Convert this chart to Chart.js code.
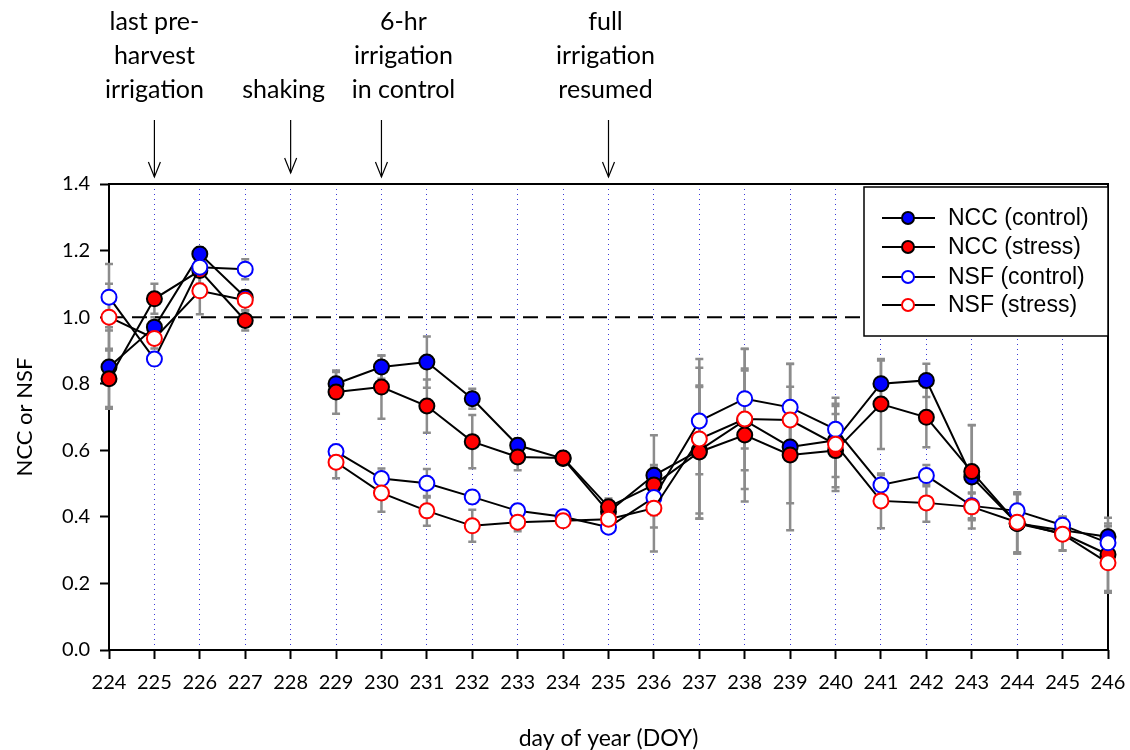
<!DOCTYPE html>
<html><head><meta charset="utf-8">
<script src="https://cdn.jsdelivr.net/npm/chart.js@4/dist/chart.umd.min.js"></script>
<style>html,body{margin:0;padding:0;background:#fff}#wrap{width:1130px;height:750px}</style>
</head><body><div id="wrap"><canvas id="c" width="1130" height="750"></canvas></div>
<script>
// ---- data ----
const days = [224,225,226,227,228,229,230,231,232,233,234,235,236,237,238,239,240,241,242,243,244,245,246];
const nccControl = [0.85,0.97,1.19,1.06,null,0.80,0.85,0.865,0.755,0.615,0.575,0.415,0.525,0.60,0.69,0.61,0.63,0.80,0.81,0.52,0.38,0.36,0.34];
const nccStress  = [0.815,1.055,1.14,0.99,null,0.775,0.79,0.733,0.626,0.58,0.577,0.43,0.496,0.595,0.646,0.586,0.599,0.739,0.699,0.536,0.38,0.35,0.287];
const nsfControl = [1.06,0.874,1.15,1.144,null,0.596,0.515,0.501,0.46,0.418,0.40,0.369,0.458,0.688,0.755,0.729,0.663,0.496,0.524,0.433,0.418,0.375,0.322];
const nsfStress  = [1.0,0.936,1.079,1.051,null,0.564,0.472,0.418,0.373,0.384,0.388,0.393,0.426,0.634,0.694,0.691,0.618,0.448,0.442,0.43,0.384,0.348,0.262];
const nccControlErr = [0.12,0.03,0.02,0.02,null,0.035,0.035,0.077,0.03,0.02,0.01,0.03,0.12,0.19,0.15,0.25,0.11,0.07,0.05,0.155,0.09,0.02,0.04];
const nccStressErr  = [0.09,0.045,0.06,0.03,null,0.065,0.095,0.08,0.08,0.04,0.01,0.025,0.05,0.2,0.2,0.145,0.11,0.135,0.09,0.14,0.09,0.05,0.11];
const nsfControlErr = [0.1,0.02,0.05,0.03,null,0.02,0.03,0.043,0.02,0.02,0.01,0.015,0.09,0.16,0.15,0.13,0.07,0.03,0.032,0.04,0.05,0.025,0.05];
const nsfStressErr  = [0.1,0.03,0.07,0.03,null,0.048,0.057,0.045,0.048,0.027,0.01,0.02,0.13,0.24,0.21,0.1,0.14,0.082,0.057,0.04,0.09,0.05,0.09];
const seriesNames = ['NCC (control)','NCC (stress)','NSF (control)','NSF (stress)'];
const yTickLabels = ['0.0','0.2','0.4','0.6','0.8','1.0','1.2','1.4'];
const referenceLevel = 1.0;
const eventDays = [225, 228, 230, 235];
const eventLabels = [['last pre-','harvest','irrigation'], ['shaking'], ['6-hr','irrigation','in control'], ['full','irrigation','resumed']];

// ---- styles ----
const seriesStyles = [
  {fill:'#0000ff', stroke:'#000000'},
  {fill:'#ff0000', stroke:'#000000'},
  {fill:'#ffffff', stroke:'#0000ff'},
  {fill:'#ffffff', stroke:'#ff0000'}
];
const allValues = [nccControl, nccStress, nsfControl, nsfStress];
const allErrors = [nccControlErr, nccStressErr, nsfControlErr, nsfStressErr];
const toPts = arr => days.map((d,i)=>({x:d, y:arr[i]}));

const datasets = allValues.map((vals,k)=>({
  label: seriesNames[k],
  data: toPts(vals),
  borderColor: '#000',
  borderWidth: 2,
  pointRadius: 7.5,
  pointHoverRadius: 7.5,
  pointBackgroundColor: seriesStyles[k].fill,
  pointBorderColor: seriesStyles[k].stroke,
  pointBorderWidth: 2,
  spanGaps: false,
  tension: 0,
  clip: false,
  order: 4-k
}));
datasets.push({
  label: 'ref',
  data: [{x:days[0], y:referenceLevel},{x:days[days.length-1], y:referenceLevel}],
  borderColor:'#000', borderWidth:2, borderDash:[15,8], pointRadius:0, order: 10, clip:false
});

const boxPlugin = {
  id:'box',
  beforeDatasetsDraw(chart){
    const {ctx, chartArea:a} = chart;
    ctx.save();
    ctx.strokeStyle='#000'; ctx.lineWidth=2;
    ctx.strokeRect(a.left, a.top, a.right-a.left, a.bottom-a.top);
    // error bars
    const xs = chart.scales.x, ys = chart.scales.y;
    ctx.strokeStyle='#8c8c8c'; ctx.lineWidth=2.5;
    allValues.forEach((vals,k)=>{
      vals.forEach((v,i)=>{
        const e = allErrors[k][i];
        if (v==null || e==null) return;
        const px = xs.getPixelForValue(days[i]);
        const t = ys.getPixelForValue(v+e), b = ys.getPixelForValue(v-e);
        ctx.beginPath();
        ctx.moveTo(px,t); ctx.lineTo(px,b);
        ctx.moveTo(px-4,t); ctx.lineTo(px+4,t);
        ctx.moveTo(px-4,b); ctx.lineTo(px+4,b);
        ctx.stroke();
      });
    });
    ctx.restore();
  }
};

const legendPlugin = {
  id:'customLegend',
  afterDatasetsDraw(chart){
    const {ctx, chartArea:a} = chart;
    const L = 864, T = 187, R = a.right, B = 336;
    ctx.save();
    ctx.fillStyle='#fff'; ctx.fillRect(L,T,R-L,B-T);
    ctx.strokeStyle='#000'; ctx.lineWidth=1.5; ctx.strokeRect(L,T,R-L,B-T);
    const rows=[218,247,277,305];
    ctx.font = '23px "Liberation Sans", Arial, sans-serif';
    ctx.textBaseline='middle'; ctx.textAlign='left';
    seriesNames.forEach((n,k)=>{
      const y = rows[k];
      ctx.strokeStyle='#000'; ctx.lineWidth=2;
      ctx.beginPath(); ctx.moveTo(882,y); ctx.lineTo(935,y); ctx.stroke();
      ctx.beginPath(); ctx.arc(908,y,6,0,Math.PI*2);
      ctx.fillStyle=seriesStyles[k].fill; ctx.fill();
      ctx.strokeStyle=seriesStyles[k].stroke; ctx.lineWidth=2; ctx.stroke();
      ctx.fillStyle='#000';
      ctx.fillText(n, 948, y+1);
    });
    ctx.restore();
  }
};

const annotPlugin = {
  id:'annot',
  afterDraw(chart){
    const {ctx} = chart;
    const xs = chart.scales.x;
    const textShift = [0,-7,22,-3];
    const lineYs = [22,56,90];
    ctx.save();
    ctx.font = '25px Lato, "Open Sans", sans-serif';
    ctx.fillStyle='#000'; ctx.textAlign='center'; ctx.textBaseline='middle';
    eventDays.forEach((d,k)=>{
      const px = xs.getPixelForValue(d);
      const lines = eventLabels[k];
      const startIdx = 3 - lines.length;
      lines.forEach((t,j)=> ctx.fillText(t, px+textShift[k], lineYs[startIdx+j]));
      const top = 120, bot = (k===1)?173:177;
      ctx.strokeStyle='#000'; ctx.lineWidth=1.2;
      ctx.beginPath(); ctx.moveTo(px, top); ctx.lineTo(px, bot); ctx.stroke();
      ctx.beginPath(); ctx.moveTo(px-6, bot-15); ctx.lineTo(px, bot); ctx.lineTo(px+6, bot-15); ctx.stroke();
    });
    ctx.restore();
  }
};

new Chart(document.getElementById('c'), {
  type:'line',
  data:{datasets},
  options:{
    responsive:false, animation:false, devicePixelRatio:1,
    layout:{padding:{top:184, right:22, left:0, bottom:0}},
    plugins:{legend:{display:false}, tooltip:{enabled:false}},
    scales:{
      x:{
        type:'linear', min:224, max:246,
        afterFit(s){ s.height = 100; s.paddingLeft = 0; s.paddingRight = 0; },
        ticks:{stepSize:1, autoSkip:false, maxRotation:0, padding:12, color:'#000',
               font:{family:'Lato', size:20}, callback:v=>String(v)},
        grid:{display:true, drawOnChartArea:true, color:'#3b3bd6', lineWidth:1,
              drawTicks:true, tickLength:9, tickColor:'#000', tickWidth:2, tickBorderDash:[]},
        border:{display:false, dash:[1,4]},
        title:{display:true, text:'day of year (DOY)', color:'#000',
               font:{family:'Lato', size:23, lineHeight:1.0}, padding:{top:0,bottom:0}}
      },
      y:{
        min:0, max:1.4,
        afterFit(s){ s.width = 109; s.paddingTop = 0; s.paddingBottom = 0; },
        ticks:{stepSize:0.2, padding:10, color:'#000', font:{family:'Lato', size:20},
               callback:(v)=> yTickLabels[Math.round(v/0.2)] },
        grid:{drawOnChartArea:false, drawTicks:true, tickLength:9, tickColor:'#000', tickWidth:2},
        border:{display:false},
        title:{display:true, text:'NCC or NSF', color:'#000',
               font:{family:'Lato', size:22}, padding:{top:12,bottom:0}}
      }
    }
  },
  plugins:[boxPlugin, legendPlugin, annotPlugin]
});
</script>
</body></html>
